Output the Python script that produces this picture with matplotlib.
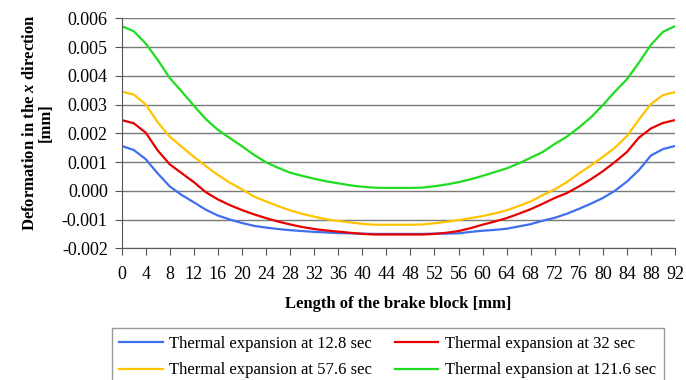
import matplotlib
import numpy as np

matplotlib.use("Agg")
import matplotlib.pyplot as plt


# длина колодки, мм (шаг 2 мм)
length_mm = list(range(0, 93, 2))

# деформация по x, мм
deform_12_8 = [
    0.00156, 0.00142, 0.00110, 0.00060, 0.00015, -0.00015, -0.00040, -0.00066,
    -0.00086, -0.00100, -0.00112, -0.00122, -0.00128, -0.00133, -0.00137, -0.00140,
    -0.00143, -0.00145, -0.00147, -0.00148, -0.00149, -0.00150, -0.00150, -0.00150,
    -0.00150, -0.00150, -0.00149, -0.00149, -0.00148, -0.00143, -0.00139, -0.00136,
    -0.00132, -0.00124, -0.00116, -0.00104, -0.00094, -0.00080, -0.00063, -0.00045,
    -0.00025, 0.00000, 0.00032, 0.00072, 0.00123, 0.00145, 0.00156,
]
deform_32 = [
    0.00246, 0.00235, 0.00202, 0.00140, 0.00092, 0.00061, 0.00030, -0.00005,
    -0.00030, -0.00050, -0.00067, -0.00082, -0.00095, -0.00107, -0.00117, -0.00126,
    -0.00133, -0.00138, -0.00142, -0.00146, -0.00150, -0.00152, -0.00152, -0.00152,
    -0.00152, -0.00152, -0.00150, -0.00146, -0.00140, -0.00130, -0.00118, -0.00107,
    -0.00095, -0.00080, -0.00064, -0.00045, -0.00025, -0.00008, 0.00015, 0.00040,
    0.00068, 0.00100, 0.00135, 0.00185, 0.00217, 0.00236, 0.00246,
]
deform_57_6 = [
    0.00345, 0.00335, 0.00300, 0.00238, 0.00188, 0.00153, 0.00118, 0.00086,
    0.00055, 0.00028, 0.00005, -0.00020, -0.00037, -0.00053, -0.00068, -0.00080,
    -0.00090, -0.00099, -0.00105, -0.00110, -0.00115, -0.00118, -0.00118, -0.00118,
    -0.00118, -0.00117, -0.00113, -0.00108, -0.00102, -0.00095, -0.00088, -0.00079,
    -0.00068, -0.00053, -0.00037, -0.00015, 0.00005, 0.00030, 0.00060, 0.00088,
    0.00118, 0.00150, 0.00190, 0.00248, 0.00302, 0.00333, 0.00343,
]
deform_121_6 = [
    0.00573, 0.00555, 0.00512, 0.00455, 0.00392, 0.00345, 0.00296, 0.00249,
    0.00212, 0.00183, 0.00155, 0.00125, 0.00099, 0.00080, 0.00063, 0.00052,
    0.00042, 0.00033, 0.00026, 0.00019, 0.00014, 0.00011, 0.00010, 0.00010,
    0.00010, 0.00011, 0.00016, 0.00022, 0.00030, 0.00040, 0.00052, 0.00065,
    0.00078, 0.00095, 0.00115, 0.00135, 0.00163, 0.00188, 0.00220, 0.00255,
    0.00298, 0.00345, 0.00388, 0.00446, 0.00508, 0.00553, 0.00573,
]

series_labels = [
    "Thermal expansion at 12.8 sec",
    "Thermal expansion at 32 sec",
    "Thermal expansion at 57.6 sec",
    "Thermal expansion at 121.6 sec",
]
series_colors = ["#3F6FEF", "#E80000", "#FFC400", "#1EDC1E"]

x_ticks = list(range(0, 93, 4))
y_ticks = [-0.002, -0.001, 0.0, 0.001, 0.002, 0.003, 0.004, 0.005, 0.006]

plt.rcParams["font.family"] = ["Liberation Serif", "DejaVu Serif"]
plt.rcParams["mathtext.fontset"] = "custom"
plt.rcParams["mathtext.it"] = "Liberation Serif:italic:bold"
plt.rcParams["mathtext.rm"] = "Liberation Serif:bold"

fig = plt.figure(figsize=(6.86, 3.80), dpi=100)
ax = fig.add_axes([0.1774, 0.3466, 0.8066, 0.6052])

all_series = [deform_12_8, deform_32, deform_57_6, deform_121_6]
lines = []
for values, label, color in zip(all_series, series_labels, series_colors):
    (line,) = ax.plot(length_mm, values, color=color, linewidth=1.6, label=label)
    lines.append(line)

ax.set_xlim(0, 92)
ax.set_ylim(-0.002, 0.006)
ax.set_xticks(x_ticks)
ax.set_yticks(y_ticks)
ax.set_yticklabels([f"{v:.3f}" for v in y_ticks])
ax.tick_params(axis="both", labelsize=13, length=5, color="#555555")
ax.tick_params(axis="x", pad=8)
ax.tick_params(axis="y", pad=5)

ax.grid(axis="y", color="#7A7A7A", linewidth=1)
ax.set_axisbelow(True)
for side in ["top", "right"]:
    ax.spines[side].set_visible(False)
for side in ["left", "bottom"]:
    ax.spines[side].set_color("#555555")

ax.set_xlabel("Length of the brake block [mm]", fontsize=12, fontweight="bold", labelpad=9)
ax.set_ylabel(
    "Deformation in the $\\mathit{x}$ direction\n[mm]",
    fontsize=12,
    fontweight="bold",
    linespacing=1.05,
)
ax.yaxis.set_label_coords(-0.122, 0.547)

# порядок как в excel: строки 12.8/32, затем 57.6/121.6
order = [0, 2, 1, 3]
fig.legend(
    [lines[i] for i in order],
    [series_labels[i] for i in order],
    loc="upper left",
    bbox_to_anchor=(111.7 / 686, 0.0, 552 / 686, 1 - 328 / 380),
    mode="expand",
    ncol=2,
    fontsize=12,
    frameon=True,
    fancybox=False,
    edgecolor="#808080",
    handlelength=2.6,
    handletextpad=0.4,
    borderaxespad=0.0,
    labelspacing=0.65,
    borderpad=0.45,
)

fig.savefig("out.png", dpi=100)
plt.close(fig)
